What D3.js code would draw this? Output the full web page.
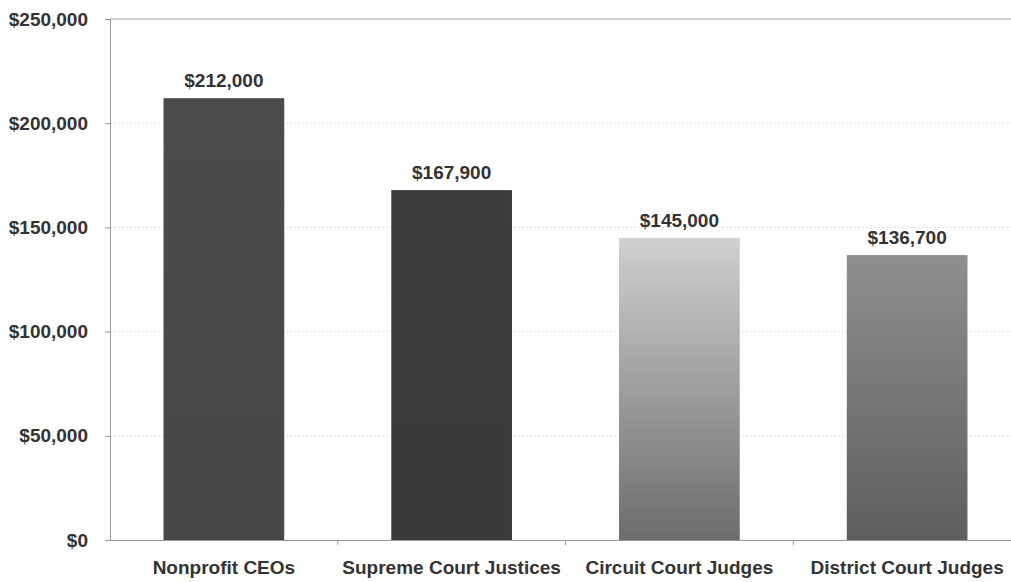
<!DOCTYPE html>
<html><head><meta charset="utf-8">
<script src="https://cdn.jsdelivr.net/npm/d3@7"></script>
<style>body{margin:0;background:#fff}svg{display:block}</style>
</head><body>
<svg id="c" width="1011" height="582"></svg>
<script>
const categories = ["Nonprofit CEOs", "Supreme Court Justices", "Circuit Court Judges", "District Court Judges"];
const salaries = [212000, 167900, 145000, 136700];
const yTicks = [0, 50000, 100000, 150000, 200000, 250000];

const svg = d3.select("#c");
const mLeft = 110, mRight = 1021, mTop = 19, mBottom = 540;
const x = d3.scaleBand().domain(categories).range([mLeft, mRight]).paddingInner(0.47).paddingOuter(0.235);
const y = d3.scaleLinear().domain([0, 250000]).range([mBottom, mTop]);
const fmt = v => "$" + d3.format(",")(v);
const font = "'Liberation Sans', Arial, sans-serif";
const fs = 19;

const defs = svg.append("defs");
const grads = [
  ["#4b4b4b", "#474747"],
  ["#3c3c3c", "#3a3a3a"],
  ["#d0d0d0", "#6c6c6c"],
  ["#8f8f8f", "#5e5e5e"]
];
grads.forEach((g, i) => {
  const lg = defs.append("linearGradient").attr("id", "g" + i).attr("x1", 0).attr("y1", 0).attr("x2", 0).attr("y2", 1);
  lg.append("stop").attr("offset", "0%").attr("stop-color", g[0]);
  lg.append("stop").attr("offset", "100%").attr("stop-color", g[1]);
});

// gridlines
svg.append("g").selectAll("line").data(yTicks.filter(t => t > 0 && t < 250000)).join("line")
  .attr("x1", mLeft).attr("x2", mRight).attr("y1", d => y(d)).attr("y2", d => y(d))
  .attr("stroke", "#e2e2e2").attr("stroke-width", 1).attr("stroke-dasharray", "2,2");
// top line
svg.append("line").attr("x1", mLeft).attr("x2", mRight).attr("y1", y(250000)).attr("y2", y(250000))
  .attr("stroke", "#bdbdbd").attr("stroke-width", 1.5);

// bars
svg.append("g").selectAll("rect").data(salaries).join("rect")
  .attr("x", (d, i) => x(categories[i])).attr("width", x.bandwidth())
  .attr("y", d => y(d)).attr("height", d => y(0) - y(d))
  .attr("fill", (d, i) => `url(#g${i})`);

// value labels
svg.append("g").selectAll("text").data(salaries).join("text")
  .attr("x", (d, i) => x(categories[i]) + x.bandwidth() / 2)
  .attr("y", d => y(d) - 11)
  .attr("text-anchor", "middle").attr("font-family", font).attr("font-weight", "bold")
  .attr("font-size", fs).attr("fill", "#333").text(d => fmt(d));

// y axis
const ya = svg.append("g").attr("transform", `translate(${mLeft},0)`)
  .call(d3.axisLeft(y).tickValues(yTicks).tickFormat(fmt).tickSize(5).tickPadding(17));
ya.select(".domain").attr("stroke", "#9a9a9a");
ya.selectAll(".tick line").attr("stroke", "#9a9a9a");
ya.selectAll("text").attr("font-family", font).attr("font-weight", "bold").attr("font-size", fs).attr("fill", "#333");

// x axis
const xa = svg.append("g").attr("transform", `translate(0,${mBottom})`)
  .call(d3.axisBottom(x).tickSize(0).tickPadding(21));
xa.select(".domain").attr("stroke", "#9a9a9a").attr("d", `M${mLeft},0.5H${mRight}`);
xa.selectAll("text").attr("font-family", font).attr("font-weight", "bold").attr("font-size", fs).attr("fill", "#333");
// category boundary ticks
const bounds = categories.slice(1).map(c => x(c) - x.step() * x.paddingInner() / 2);
xa.append("g").selectAll("line").data(bounds).join("line")
  .attr("x1", d => d).attr("x2", d => d).attr("y1", 0).attr("y2", 5).attr("stroke", "#9a9a9a");
</script>
</body></html>
